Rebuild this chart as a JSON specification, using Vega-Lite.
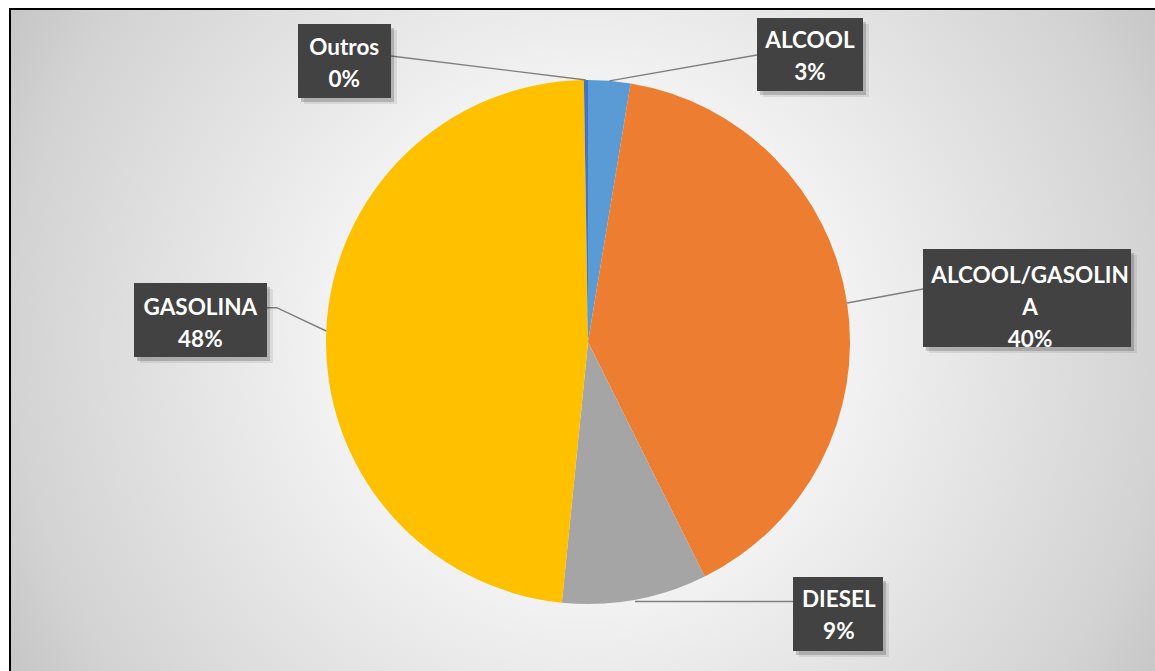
{
  "$schema": "https://vega.github.io/schema/vega-lite/v6.json",
  "width": 1156,
  "height": 666,
  "autosize": {"type": "none"},
  "padding": {"left": 10, "top": 9, "right": 0, "bottom": 0},
  "background": "#ffffff",
  "config": {"view": {"stroke": null}},
  "data": {
    "values": [
      {"category": "ALCOOL", "value": 2.6, "label": "ALCOOL\n3%"},
      {"category": "ALCOOL/GASOLINA", "value": 40.05, "label": "ALCOOL/GASOLIN\nA\n40%"},
      {"category": "DIESEL", "value": 8.94, "label": "DIESEL\n9%"},
      {"category": "GASOLINA", "value": 48.16, "label": "GASOLINA\n48%"},
      {"category": "Outros", "value": 0.25, "label": "Outros\n0%"}
    ]
  },
  "layer": [
    {
      "data": {"values": [{"panel": "fundo"}]},
      "mark": {
        "type": "rect",
        "stroke": "#000000",
        "strokeWidth": 2,
        "fill": {
          "gradient": "radial",
          "x1": 0.5, "y1": 0.5, "r1": 0,
          "x2": 0.5, "y2": 0.5, "r2": 0.6,
          "stops": [
            {"offset": 0, "color": "#ffffff"},
            {"offset": 0.33, "color": "#f5f5f5"},
            {"offset": 0.83, "color": "#d3d3d3"},
            {"offset": 1, "color": "#c2c2c2"}
          ]
        }
      }
    },
    {
      "mark": {"type": "arc", "outerRadius": 262},
      "encoding": {
        "theta": {"field": "value", "type": "quantitative", "stack": true},
        "color": {
          "field": "category", "type": "nominal",
          "scale": {"domain": ["ALCOOL", "ALCOOL/GASOLINA", "DIESEL", "GASOLINA", "Outros"], "range": ["#5b9bd5", "#ed7d31", "#a5a5a5", "#ffc000", "#4472c4"]},
          "legend": null
        }
      }
    },
    {
      "mark": {"type": "point", "size": 4, "filled": false, "opacity": 1, "stroke": "#7f7f7f", "strokeWidth": 1.4},
      "encoding": {
        "shape": {
          "condition": [
            {"test": "datum.category === 'Outros'", "value": "M-2.1,-262L-197,-286"},
            {"test": "datum.category === 'ALCOOL'", "value": "M21.4,-261.1L169,-287"},
            {"test": "datum.category === 'ALCOOL/GASOLINA'", "value": "M259.1,-39L335,-53"},
            {"test": "datum.category === 'GASOLINA'", "value": "M-261.8,-11L-311.3,-34.3H-321"}
          ],
          "value": "M47,259.5H205"
        }
      }
    },
    {
      "mark": {"type": "point", "size": 4, "filled": true, "opacity": 0.08, "fill": "#000000", "strokeWidth": 0, "xOffset": 6, "yOffset": 6},
      "encoding": {
        "shape": {
          "condition": [
            {"test": "datum.category === 'Outros'", "value": "M-290,-318H-197V-244H-290Z"},
            {"test": "datum.category === 'ALCOOL'", "value": "M169,-324H275V-251H169Z"},
            {"test": "datum.category === 'ALCOOL/GASOLINA'", "value": "M335,-93H543V5H335Z"},
            {"test": "datum.category === 'GASOLINA'", "value": "M-454,-59H-321V15H-454Z"}
          ],
          "value": "M205,235H295V309H205Z"
        }
      }
    },
    {
      "mark": {"type": "point", "size": 4, "filled": true, "opacity": 0.18, "fill": "#000000", "strokeWidth": 0, "xOffset": 3, "yOffset": 4},
      "encoding": {
        "shape": {
          "condition": [
            {"test": "datum.category === 'Outros'", "value": "M-290,-318H-197V-244H-290Z"},
            {"test": "datum.category === 'ALCOOL'", "value": "M169,-324H275V-251H169Z"},
            {"test": "datum.category === 'ALCOOL/GASOLINA'", "value": "M335,-93H543V5H335Z"},
            {"test": "datum.category === 'GASOLINA'", "value": "M-454,-59H-321V15H-454Z"}
          ],
          "value": "M205,235H295V309H205Z"
        }
      }
    },
    {
      "mark": {"type": "point", "size": 4, "filled": true, "opacity": 1, "fill": "#424242", "strokeWidth": 0},
      "encoding": {
        "shape": {
          "condition": [
            {"test": "datum.category === 'Outros'", "value": "M-290,-318H-197V-244H-290Z"},
            {"test": "datum.category === 'ALCOOL'", "value": "M169,-324H275V-251H169Z"},
            {"test": "datum.category === 'ALCOOL/GASOLINA'", "value": "M335,-93H543V5H335Z"},
            {"test": "datum.category === 'GASOLINA'", "value": "M-454,-59H-321V15H-454Z"}
          ],
          "value": "M205,235H295V309H205Z"
        }
      }
    },
    {
      "mark": {"type": "text", "radius": 262, "font": "Lato", "fontSize": 22.5, "fontWeight": "bold", "fill": "#ffffff", "align": "center", "baseline": "top", "lineHeight": 32, "lineBreak": "\n", "dx": -241.7, "dy": -43.2},
      "encoding": {
        "theta": {"field": "value", "type": "quantitative", "stack": true},
        "detail": {"field": "category", "type": "nominal"},
        "text": {"condition": {"test": "datum.category === 'Outros'", "field": "label", "type": "nominal"}, "value": ""}
      }
    },
    {
      "mark": {"type": "text", "radius": 262, "font": "Lato", "fontSize": 22.5, "fontWeight": "bold", "fill": "#ffffff", "align": "center", "baseline": "top", "lineHeight": 32, "lineBreak": "\n", "dx": 200.6, "dy": -50.9},
      "encoding": {
        "theta": {"field": "value", "type": "quantitative", "stack": true},
        "detail": {"field": "category", "type": "nominal"},
        "text": {"condition": {"test": "datum.category === 'ALCOOL'", "field": "label", "type": "nominal"}, "value": ""}
      }
    },
    {
      "mark": {"type": "text", "radius": 262, "font": "Lato", "fontSize": 22.5, "fontWeight": "bold", "fill": "#ffffff", "align": "center", "baseline": "top", "lineHeight": 32, "lineBreak": "\n", "dx": 183, "dy": -38},
      "encoding": {
        "theta": {"field": "value", "type": "quantitative", "stack": true},
        "detail": {"field": "category", "type": "nominal"},
        "text": {"condition": {"test": "datum.category === 'ALCOOL/GASOLINA'", "field": "label", "type": "nominal"}, "value": ""}
      }
    },
    {
      "mark": {"type": "text", "radius": 262, "font": "Lato", "fontSize": 22.5, "fontWeight": "bold", "fill": "#ffffff", "align": "center", "baseline": "top", "lineHeight": 32, "lineBreak": "\n", "dx": -125.9, "dy": -34.4},
      "encoding": {
        "theta": {"field": "value", "type": "quantitative", "stack": true},
        "detail": {"field": "category", "type": "nominal"},
        "text": {"condition": {"test": "datum.category === 'GASOLINA'", "field": "label", "type": "nominal"}, "value": ""}
      }
    },
    {
      "mark": {"type": "text", "radius": 262, "font": "Lato", "fontSize": 22.5, "fontWeight": "bold", "fill": "#ffffff", "align": "center", "baseline": "top", "lineHeight": 32, "lineBreak": "\n", "dx": 203.7, "dy": -10.7},
      "encoding": {
        "theta": {"field": "value", "type": "quantitative", "stack": true},
        "detail": {"field": "category", "type": "nominal"},
        "text": {"condition": {"test": "datum.category === 'DIESEL'", "field": "label", "type": "nominal"}, "value": ""}
      }
    }
  ]
}
